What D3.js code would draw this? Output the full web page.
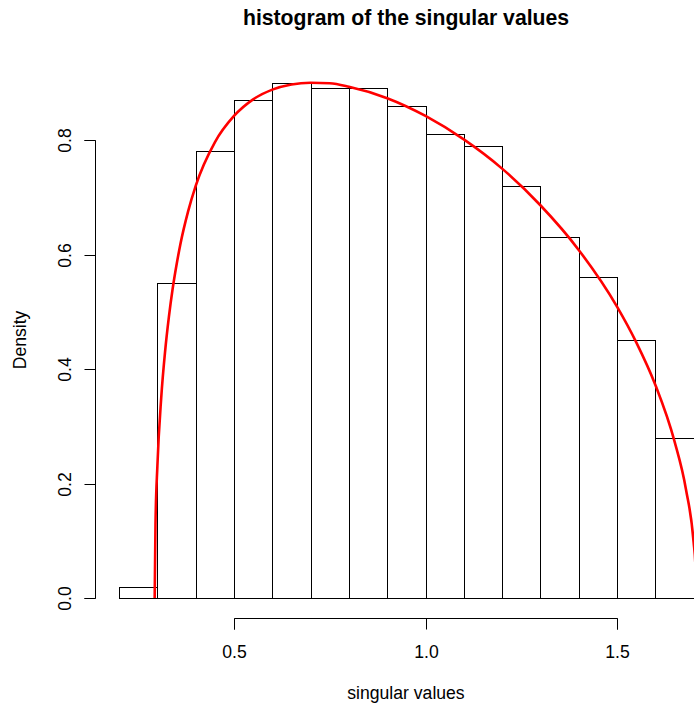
<!DOCTYPE html>
<html>
<head>
<meta charset="utf-8">
<script src="https://cdn.jsdelivr.net/npm/d3@7"></script>
<style>
  html, body { margin: 0; padding: 0; background: #fff; }
  svg { display: block; }
  text { font-family: "Liberation Sans", Arial, Helvetica, sans-serif; fill: #000; }
</style>
</head>
<body>
<svg id="chart" width="694" height="706"></svg>
<script>
// ---- data ----
const binStarts = [0.2, 0.3, 0.4, 0.5, 0.6, 0.7, 0.8, 0.9, 1.0, 1.1, 1.2, 1.3, 1.4, 1.5, 1.6];
const binWidth = 0.1;
const densities = [0.02, 0.55, 0.78, 0.87, 0.90, 0.89, 0.89, 0.86, 0.81, 0.79, 0.72, 0.63, 0.56, 0.45, 0.28];
const curveX = [0.2929, 0.295, 0.30, 0.31, 0.32, 0.33, 0.34, 0.35, 0.36, 0.38, 0.40, 0.45, 0.50, 0.55, 0.60, 0.65, 0.70, 0.75, 0.80, 0.90, 1.00, 1.10, 1.20, 1.30, 1.40, 1.50, 1.55, 1.60, 1.65, 1.68, 1.70, 1.705, 1.7071];
const curveY = [0.0, 0.128, 0.231, 0.350, 0.430, 0.491, 0.541, 0.582, 0.618, 0.675, 0.720, 0.796, 0.842, 0.871, 0.888, 0.897, 0.900, 0.899, 0.893, 0.873, 0.842, 0.801, 0.750, 0.686, 0.608, 0.509, 0.447, 0.3725, 0.274, 0.190, 0.098, 0.053, 0.0];
const xTicks = [0.5, 1.0, 1.5];
const yTicks = [0.0, 0.2, 0.4, 0.6, 0.8];
const titleText = "histogram of the singular values";
const xLabel = "singular values";
const yLabel = "Density";

// ---- scales ----
const svg = d3.select("#chart");
const x = d3.scaleLinear().domain([0.5, 1.5]).range([234, 617]);
const y = d3.scaleLinear().domain([0.0, 0.8]).range([598, 140]);
const xAxisY = 618.5;
const yAxisX = 95.5;
const fs = 17.6;
const snap = (v) => Math.round(v) + 0.5;

// ---- bars ----
svg.append("g").selectAll("rect").data(binStarts).join("rect")
  .attr("x", (d) => snap(x(d)))
  .attr("width", (d) => snap(x(d + binWidth)) - snap(x(d)))
  .attr("y", (d, i) => snap(y(densities[i])))
  .attr("height", (d, i) => snap(y(0)) - snap(y(densities[i])))
  .attr("fill", "#fff")
  .attr("stroke", "#000")
  .attr("stroke-width", 1);

// ---- density curve ----
const pts = curveX.map((v, i) => [v, curveY[i]]);
svg.append("path")
  .datum(pts)
  .attr("d", d3.line().x(d => x(d[0])).y(d => y(d[1])).curve(d3.curveMonotoneX))
  .attr("fill", "none")
  .attr("stroke", "#ff0000")
  .attr("stroke-width", 2.6);

// ---- x axis ----
const xAxis = d3.axisBottom(x).tickValues(xTicks).tickSize(11).tickPadding(16)
  .tickFormat(d3.format(".1f"));
const gx = svg.append("g").attr("transform", `translate(0,${xAxisY})`).call(xAxis);
gx.select(".domain").attr("d", `M${snap(x(xTicks[0]))},11V0H${snap(x(xTicks[xTicks.length-1]))}V11`)
  .attr("stroke", "#000").attr("stroke-width", 1);
gx.selectAll(".tick").attr("transform", d => `translate(${snap(x(d))},0)`);
gx.selectAll(".tick line").attr("stroke", "#000");
gx.selectAll(".tick text").attr("font-size", fs).attr("font-family", "Liberation Sans, Arial, sans-serif").attr("fill", "#000");

// ---- y axis ----
const yAxis = d3.axisLeft(y).tickValues(yTicks).tickSize(11).tickFormat(d3.format(".1f"));
const gy = svg.append("g").attr("transform", `translate(${yAxisX},0)`).call(yAxis);
gy.select(".domain").attr("d", `M-11,${snap(y(yTicks[0]))}H0V${snap(y(yTicks[yTicks.length-1]))}H-11`)
  .attr("stroke", "#000").attr("stroke-width", 1);
gy.selectAll(".tick").attr("transform", d => `translate(0,${snap(y(d))})`);
gy.selectAll(".tick line").attr("stroke", "#000");
gy.selectAll(".tick text")
  .attr("font-size", fs).attr("font-family", "Liberation Sans, Arial, sans-serif").attr("fill", "#000")
  .attr("x", null).attr("dy", null)
  .attr("text-anchor", "middle")
  .attr("transform", "translate(-25,0) rotate(-90)");

// ---- titles ----
svg.append("text")
  .attr("x", 406).attr("y", 25)
  .attr("text-anchor", "middle")
  .attr("font-weight", "bold")
  .attr("font-size", 21.2)
  .text(titleText);

svg.append("text")
  .attr("x", 406).attr("y", 699)
  .attr("text-anchor", "middle")
  .attr("font-size", fs)
  .text(xLabel);

svg.append("text")
  .attr("transform", "translate(26,340) rotate(-90)")
  .attr("text-anchor", "middle")
  .attr("font-size", fs)
  .text(yLabel);
</script>
</body>
</html>
